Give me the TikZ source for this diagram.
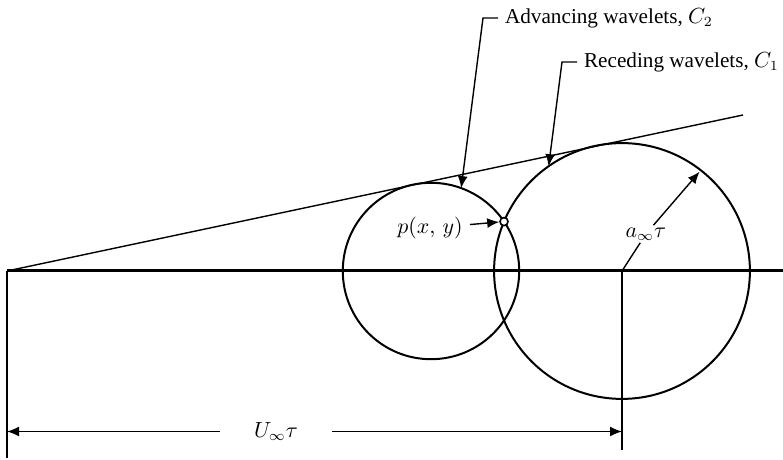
\documentclass[tikz,border=0pt]{standalone}
\usepackage{fontspec}
\setmainfont{Liberation Serif}
\usetikzlibrary{arrows.meta,calc}

\begin{document}
\begin{tikzpicture}[x=.5pt,y=.5pt,>={Latex[length=6pt,width=5pt]},font=\fontsize{10.6}{13}\selectfont,
  wavelet/.style={line width=1pt},
  thinline/.style={line width=.7pt},
  leader/.style={thinline,->}]
  \useasboundingbox (-7,-189) rectangle (776,271);
  % apex, centres of the two wavelets
  \coordinate (O) at (0,0);
  \coordinate (axisend) at (776,0);
  \coordinate (machend) at (736,156);
  \coordinate (Ca) at (424,0);
  \coordinate (Cr) at (615,0);
  \draw[line width=1.5pt] (O) -- (axisend);
  \draw[thinline] (O) -- (machend);
  \draw[wavelet] (Ca) circle (88.2);
  \draw[wavelet] (Cr) circle (127.9);
  % point p where the wavelets cross
  \node[circle,draw,line width=.8pt,fill=white,inner sep=0pt,minimum size=4pt] (p) at (497,49.4) {};
  \node (plab) at (423,43) {$p(x,\,y)$};
  \draw[leader] (plab) -- (p);
  % radius of the receding wavelet
  \coordinate (rtip) at ($(Cr)+(52:126)$);
  \node[inner sep=1pt] (alab) at ($(Cr)+(52:47)+(-5,0)$) {$a_\infty\tau$};
  \draw[thinline] (Cr) -- (alab);
  \draw[leader] (alab) -- (rtip);
  % labels with leaders
  \node[anchor=west] (adv) at (491,253) {Advancing wavelets, $C_2$};
  \coordinate (advtip) at ($(Ca)+(70:88.2)$);
  \draw[leader] (adv.west) -- ++(-15,0) -- (advtip);
  \node[anchor=west] (rec) at (570,209) {Receding wavelets, $C_1$};
  \coordinate (rectip) at ($(Cr)+(125:127.9)$);
  \draw[leader] (rec.west) -- ++(-15,0) -- (rectip);
  % dimension U tau
  \coordinate (Obot) at (0,-187);
  \coordinate (Crbot) at (615,-179);
  \draw[thinline] (O) -- (Obot);
  \draw[thinline] (Cr) -- (Crbot);
  \coordinate (dimL) at (0,-160.5);
  \coordinate (dimR) at (615,-160.5);
  \node[inner xsep=17pt] (ulab) at (269,-160.5) {$U_\infty\tau$};
  \draw[leader] (ulab) -- (dimL);
  \draw[leader] (ulab) -- (dimR);
\end{tikzpicture}
\end{document}
